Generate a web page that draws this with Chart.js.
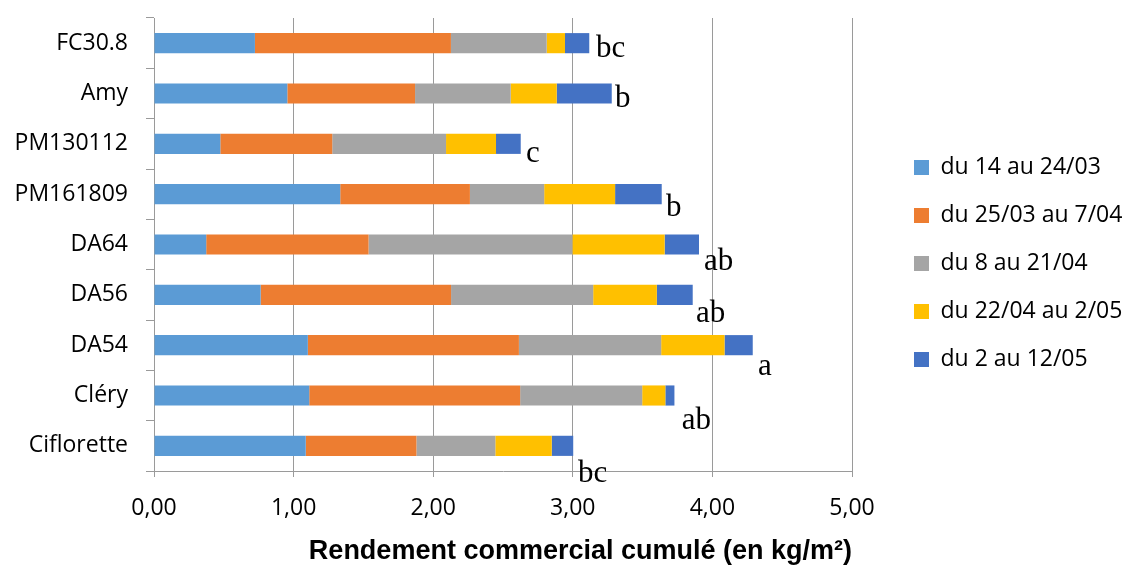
<!DOCTYPE html>
<html>
<head>
<meta charset="utf-8">
<script src="https://cdn.jsdelivr.net/npm/chart.js@4.4.1/dist/chart.umd.min.js"></script>
<style>
  html, body { margin: 0; padding: 0; background: #fff; }
  #wrap { width: 1129px; height: 565px; }
</style>
</head>
<body>
<div id="wrap"><canvas id="c" width="1129" height="565"></canvas></div>
<script>
// ---- data ----
const categories = ['FC30.8', 'Amy', 'PM130112', 'PM161809', 'DA64', 'DA56', 'DA54', 'Cléry', 'Ciflorette'];
const seriesNames = ['du 14 au 24/03', 'du 25/03 au 7/04', 'du 8 au 21/04', 'du 22/04 au 2/05', 'du 2 au 12/05'];
const s1 = [0.723, 0.955, 0.475, 1.334, 0.374, 0.764, 1.102, 1.112, 1.087];
const s2 = [1.404, 0.915, 0.802, 0.929, 1.163, 1.364, 1.512, 1.511, 0.793];
const s3 = [0.686, 0.685, 0.815, 0.532, 1.460, 1.018, 1.019, 0.874, 0.565];
const s4 = [0.131, 0.330, 0.358, 0.508, 0.661, 0.456, 0.454, 0.166, 0.404];
const s5 = [0.174, 0.394, 0.177, 0.334, 0.246, 0.257, 0.202, 0.065, 0.154];
const xTickLabels = ['0,00', '1,00', '2,00', '3,00', '4,00', '5,00'];
const letters = ['bc', 'b', 'c', 'b', 'ab', 'ab', 'a', 'ab', 'bc'];

// ---- styling ----
const colors = ['#5B9BD5', '#ED7D31', '#A5A5A5', '#FFC000', '#4472C4'];
const letterDx = [6.7, 3.3, 5.3, 4.3, 5, 3.3, 5.3, 7.4, 4.7];
const letterDy = [13.7, 13, 18, 22, 25, 27, 30, 33, 35.7];
const gridColor = '#9A9A9A';
const labelFont = { family: '"Open Sans"', size: 23 };

const allSeries = [s1, s2, s3, s4, s5];

const letterPlugin = {
  id: 'letters',
  afterDatasetsDraw(chart) {
    const ctx = chart.ctx;
    const meta = chart.getDatasetMeta(chart.data.datasets.length - 1);
    ctx.save();
    ctx.font = '31px "Liberation Serif"';
    ctx.fillStyle = '#000';
    ctx.textAlign = 'left';
    ctx.textBaseline = 'alphabetic';
    meta.data.forEach((bar, i) => {
      ctx.fillText(letters[i], bar.x + letterDx[i], bar.y + letterDy[i]);
    });
    ctx.restore();
  }
};

const legendPlace = {
  id: 'legendPlace',
  afterLayout(chart) {
    const lg = chart.legend;
    if (!lg) return;
    const pad = lg.options.labels.padding;
    const fs = lg.options.labels.font.size;
    const boxX = 914;
    const firstCenter = 167.5;
    const colH = lg.columnSizes && lg.columnSizes[0] ? lg.columnSizes[0].height : 5 * (fs + pad);
    const y0 = firstCenter - fs / 2;
    lg.left = boxX - pad;
    lg.right = chart.width;
    lg.top = y0 - pad;
    lg.bottom = y0 + colH;
  }
};

new Chart(document.getElementById('c'), {
  type: 'bar',
  data: {
    labels: categories,
    datasets: allSeries.map((s, i) => ({
      label: seriesNames[i],
      data: s,
      backgroundColor: colors[i],
      borderWidth: 0,
      categoryPercentage: 1,
      barPercentage: 0.4
    }))
  },
  options: {
    indexAxis: 'y',
    responsive: false,
    animation: false,
    layout: { padding: { left: 0, top: 18, right: 77, bottom: 0 } },
    plugins: {
      legend: {
        position: 'right',
        align: 'center',
        maxWidth: 200,
        labels: {
          boxWidth: 15,
          boxHeight: 15,
          padding: 25,
          color: '#000',
          font: labelFont
        }
      },
      tooltip: { enabled: false }
    },
    scales: {
      x: {
        stacked: true,
        min: 0,
        max: 5,
        ticks: {
          stepSize: 1,
          color: '#000',
          font: labelFont,
          padding: 18,
          callback: (v, i) => xTickLabels[i]
        },
        grid: { color: gridColor, tickLength: 6, drawTicks: true },
        border: { color: gridColor },
        title: {
          display: true,
          text: 'Rendement commercial cumulé (en kg/m²)',
          align: 'end',
          color: '#000',
          font: { family: '"Liberation Sans"', size: 27, weight: 'bold' },
          padding: { top: 0, bottom: -3 }
        },
        afterFit(scale) { scale.height = 94; }
      },
      y: {
        stacked: true,
        ticks: { color: '#000', font: labelFont, padding: 18 },
        grid: { offset: true, drawOnChartArea: false, drawTicks: true, tickLength: 8, color: gridColor },
        border: { color: gridColor },
        afterFit(scale) { scale.width = 154; scale.paddingTop = 0; scale.paddingBottom = 0; }
      }
    }
  },
  plugins: [letterPlugin, legendPlace]
});
</script>
</body>
</html>
